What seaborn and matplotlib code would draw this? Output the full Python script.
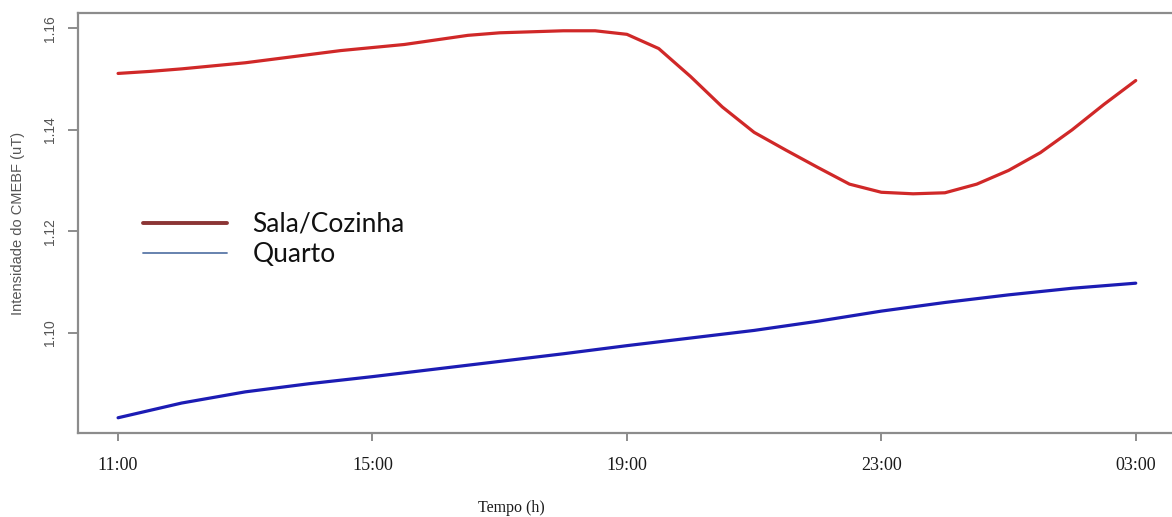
import numpy as np
import pandas as pd
import matplotlib
matplotlib.use("Agg")
import matplotlib.pyplot as plt
from matplotlib.lines import Line2D
import seaborn as sns

# hours since midnight of the first day (27 = 03:00 next day)
horas_sala = [11.0, 11.5, 12.0, 12.5, 13.0, 13.5, 14.0, 14.5, 15.0, 15.5, 16.0, 16.5,
              17.0, 17.5, 18.0, 18.5, 19.0, 19.5, 20.0, 20.5, 21.0, 21.5, 22.0, 22.5,
              23.0, 23.5, 24.0, 24.5, 25.0, 25.5, 26.0, 26.5, 27.0]
sala_cozinha = [1.1511, 1.1515, 1.1520, 1.1526, 1.1532, 1.1540, 1.1548, 1.1556, 1.1562,
                1.1568, 1.1577, 1.1586, 1.1591, 1.1593, 1.1595, 1.1595, 1.1588, 1.1560,
                1.1505, 1.1445, 1.1395, 1.1360, 1.1326, 1.1293, 1.1277, 1.1274, 1.1276,
                1.1293, 1.1320, 1.1355, 1.1400, 1.1450, 1.1497]

horas_quarto = [11, 12, 13, 14, 15, 16, 17, 18, 19, 20, 21, 22, 23, 24, 25, 26, 27]
quarto = [1.0833, 1.0862, 1.0884, 1.0900, 1.0914, 1.0929, 1.0944, 1.0959, 1.0975,
          1.0990, 1.1005, 1.1023, 1.1043, 1.1060, 1.1075, 1.1088, 1.1098]

xticks = [11, 15, 19, 23, 27]
xtick_labels = ["11:00", "15:00", "19:00", "23:00", "03:00"]
yticks = [1.10, 1.12, 1.14, 1.16]

sns.set_style("white")

fig = plt.figure(figsize=(11.72, 5.17), dpi=100)
ax = fig.add_axes([78 / 1172, 84 / 517, 1 - 78 / 1172, 420 / 517])

sns.lineplot(x=horas_sala, y=sala_cozinha, ax=ax, color="#D02828", lw=2.3)
sns.lineplot(x=horas_quarto, y=quarto, ax=ax, color="#1C1CB4", lw=2.3)

ax.set_xlim(10.37, 27.57)
ax.set_ylim(1.0803, 1.1630)

for s in ["left", "top", "bottom"]:
    ax.spines[s].set_color("#8c8c8c")
    ax.spines[s].set_linewidth(1.6)
ax.spines["right"].set_visible(False)

ax.set_xticks(xticks)
ax.set_xticklabels(xtick_labels, fontfamily="Liberation Serif", fontsize=13, color="#1a1a1a")
ax.set_yticks(yticks)
ax.set_yticklabels(["%.2f" % v for v in yticks], rotation=90, va="center",
                   fontfamily="Liberation Sans", fontsize=10, color="#555555")
ax.tick_params(axis="x", length=6, width=1.4, color="#8c8c8c", pad=11, direction="out", bottom=True)
ax.tick_params(axis="y", length=7, width=1.4, color="#8c8c8c", pad=8, direction="out", left=True)

ax.set_ylabel("Intensidade do CMEBF (uT)", fontfamily="Liberation Sans", fontsize=10.5,
              color="#555555")
ax.yaxis.set_label_coords(-0.0484, 0.5)
ax.set_xlabel("Tempo (h)", fontfamily="Liberation Serif", fontsize=11.5, color="#1a1a1a")
ax.xaxis.set_label_coords(0.396, -0.179)
ax.xaxis.label.set_va("center")

# legend
handles = [Line2D([], [], color="#8B3535", lw=2.8),
           Line2D([], [], color="#5A78A8", lw=1.3)]
leg = ax.legend(handles, ["Sala/Cozinha", "Quarto"], loc="upper left",
                bbox_to_anchor=(0.0375, 0.583), frameon=False,
                handlelength=3.2, handletextpad=0.95, labelspacing=0.2,
                prop={"family": "Lato", "size": 19})
for t in leg.get_texts():
    t.set_color("#111111")

fig.savefig("out.png", dpi=100)
